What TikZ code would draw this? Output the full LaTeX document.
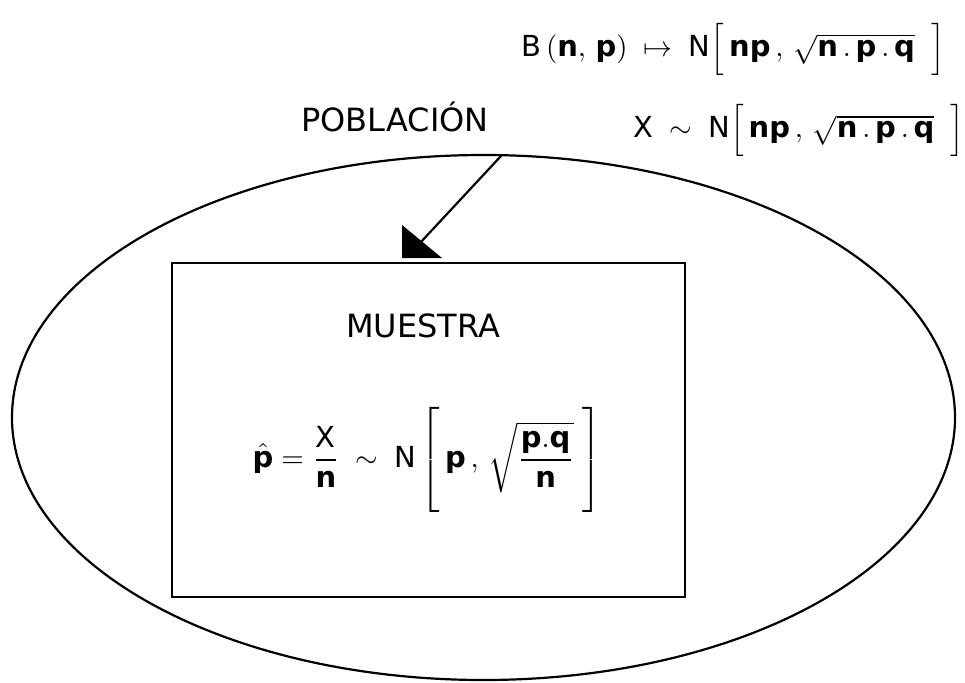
\documentclass[tikz,border=0pt]{standalone}
\usepackage{amsmath}
\usepackage{graphicx}
\usepackage{fontspec}
\setmainfont{DejaVu Sans}
\setsansfont{DejaVu Sans}
\usetikzlibrary{shapes.geometric}
\tikzset{
  outline/.style={draw=black, line width=2.2pt},
  title/.style={font=\fontsize{32}{38}\selectfont, inner sep=0pt},
  formula/.style={inner sep=0pt}
}
\newcommand{\mr}[1]{\mathrm{#1}}
\newcommand{\mb}[1]{\mathbf{#1}}
\begin{document}
\begin{tikzpicture}[x=1pt,y=-1pt]
\useasboundingbox (0,0) rectangle (965,682);
\node[outline, ellipse, minimum width=943pt, minimum height=525pt, inner sep=0pt] (pob) at (483.5,417.5) {};
\node[outline, rectangle, minimum width=513pt, minimum height=334pt, inner sep=0pt] (mue) at (428.5,430) {};
\node[title] (tpob) at (395,117) {POBLACIÓN};
\node[title] (tmue) at (423,326) {MUESTRA};
\node[formula] (f1) at (733,49) {\scalebox{2.9}{$\mr{B}\,(\mb{n},\,\mb{p})\;\mapsto\;\mr{N}\Big[\,\mb{np}\,,\,\sqrt{\mb{n\,.\,p\,.\,q}}\;\;\Big]$}};
\node[formula] (f2) at (799,130) {\scalebox{2.9}{$\mr{X}\;\sim\;\mr{N}\Big[\,\mb{np}\,,\,\sqrt{\mb{n\,.\,p\,.\,q}}\;\;\Big]$}};
\node[formula] (f3) at (427,460) {\scalebox{2.9}{$\hat{\mb{p}}=\dfrac{\mr{X}}{\mb{n}}\;\sim\;\mr{N}\left[\vphantom{\vrule height 21pt depth 16pt}\,\mb{p}\,,\,\sqrt{\dfrac{\mb{p.q}}{\mb{n}}}\;\right]$}};
\coordinate (a0) at (501,156);
\coordinate (a1) at (420,243);
\coordinate (t1) at (402,225);
\coordinate (t2) at (402,258);
\coordinate (t3) at (442,258);
\draw[line width=2.2pt] (a0) -- (a1);
\fill (t1) -- (t2) -- (t3) -- cycle;
\end{tikzpicture}
\end{document}
